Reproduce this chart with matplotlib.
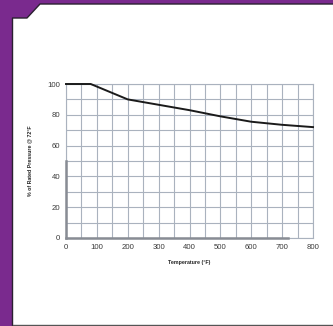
import matplotlib
matplotlib.use("Agg")
import matplotlib.pyplot as plt
from matplotlib.patches import Polygon
import numpy as np

temps = [0, 80, 200, 300, 400, 500, 600, 700, 800]
pressure_pct = [100, 100, 90, 86.5, 83, 79, 75.5, 73.5, 72]
x_ticks = [0, 100, 200, 300, 400, 500, 600, 700, 800]
y_ticks = [0, 20, 40, 60, 80, 100]

plt.rcParams['font.family'] = ['Liberation Sans', 'DejaVu Sans']

W, H = 333, 326
fig = plt.figure(figsize=(W / 100, H / 100), dpi=100)
fig.patch.set_facecolor('#7a2a8e')

def fx(px):
    return px / W

def fy(py):
    return 1 - py / H

# white panel with cut corner
pts = [(12.5, 326), (12.5, 18), (27, 18), (40, 4), (333, 4), (333, 326)]
panel = Polygon([(fx(a), fy(b)) for a, b in pts], closed=True, transform=fig.transFigure,
                facecolor='white', edgecolor='none', zorder=-2)
fig.patches.append(panel)
edge = [(12.5, 326), (12.5, 18), (27, 18), (40, 4), (333, 4)]
fig.lines.append(plt.Line2D([fx(a) for a, b in edge], [fy(b) for a, b in edge],
                            transform=fig.transFigure, color='#2a2030', lw=1.0, zorder=-1))
fig.lines.append(plt.Line2D([fx(12.5), fx(333)], [fy(325.3), fy(325.3)],
                            transform=fig.transFigure, color='#555555', lw=1.0, zorder=-1))

ax = fig.add_axes([fx(66), fy(238), fx(313) - fx(66), fy(84) - fy(238)])
ax.set_zorder(5)
ax.set_facecolor('white')
ax.set_xlim(0, 800)
ax.set_ylim(0, 100)
ax.set_xticks(x_ticks)
ax.set_xticks(np.arange(0, 801, 50), minor=True)
ax.set_yticks(y_ticks)
ax.set_yticks(np.arange(0, 101, 10), minor=True)
ax.grid(True, which='both', color='#aab2be', lw=0.8)
ax.tick_params(which='both', length=0, labelsize=5.6, colors='#3a3a3a', pad=4)
for s in ax.spines.values():
    s.set_color('#aab2be')
    s.set_linewidth(0.8)

# darker partial spines as in the reference
ax.plot([0, 0], [0, 50], color='#888c94', lw=1.8, clip_on=False, zorder=3)
ax.plot([0, 720], [0, 0], color='#888c94', lw=1.8, clip_on=False, zorder=3)

ax.plot(temps, pressure_pct, color='#1a1a1a', lw=1.4, zorder=4, clip_on=False)

ax.set_xlabel('Temperature (°F)', fontsize=3.8, fontweight='bold', labelpad=7, color='#222222')
ax.set_ylabel('% of Rated Pressure @ 72°F', fontsize=3.8, fontweight='bold', labelpad=11, color='#222222')

fig.savefig('out.png', dpi=100, facecolor=fig.get_facecolor())
